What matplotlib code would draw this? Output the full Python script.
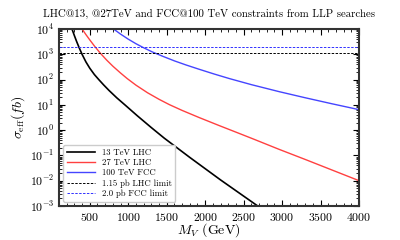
import numpy as np
import matplotlib
matplotlib.use("Agg")
import matplotlib.pyplot as plt
from matplotlib.ticker import MultipleLocator, LogLocator, NullFormatter

plt.rcParams['font.family'] = ['cmr10', 'DejaVu Serif']
plt.rcParams['mathtext.fontset'] = 'cm'
plt.rcParams['axes.formatter.use_mathtext'] = True

# 13 TeV LHC  (M_V in GeV, sigma_eff in fb)
m_13 = [250, 269, 300, 330, 365, 400, 450, 500, 560, 617, 680, 750, 850, 964,
        1117, 1300, 1469, 1800, 2200, 2621, 2800]
s_13 = [14800, 10000, 5500, 3160, 1740, 1000, 500, 282, 158, 100, 61.7, 37.2,
        19.1, 9.55, 3.72, 1.26, 0.479, 0.0832, 0.0107, 0.00135, 0.00056]

# 27 TeV LHC
m_27 = [380, 400, 450, 500, 560, 638, 720, 800, 900, 986, 1100, 1250, 1400,
        1535, 1700, 1920, 2183, 2400, 2617, 2960, 3300, 3650, 4000]
s_27 = [12300, 10000, 6030, 3720, 2140, 1100, 589, 339, 182, 110, 60.3, 30.2,
        16.6, 10.2, 6.03, 3.16, 1.51, 0.832, 0.457, 0.174, 0.0692, 0.0263, 0.01]

# 100 TeV FCC
m_100 = [760, 810, 900, 1000, 1100, 1200, 1316, 1450, 1600, 1750, 1920, 2117,
         2313, 2600, 2965, 3300, 3650, 4000]
s_100 = [13200, 10000, 6310, 3980, 2630, 1820, 1230, 832, 550, 380, 257, 166,
         110, 63.1, 33.1, 19.1, 11.0, 6.46]

lhc_limit = 1150.0   # fb
fcc_limit = 2000.0   # fb

fig = plt.figure(figsize=(4, 2.4), dpi=100)
ax = fig.add_axes([0.1475, 0.142, 0.75, 0.737])

ax.plot(m_13, s_13, color='k', lw=1.2, label='13 TeV LHC')
ax.plot(m_27, s_27, color='#ff4040', lw=1.0, label='27 TeV LHC')
ax.plot(m_100, s_100, color='#4545ff', lw=1.0, label='100 TeV FCC')
ax.axhline(lhc_limit, color='k', ls='--', lw=0.7, dashes=(2.5, 1.5), label='1.15 pb LHC limit')
ax.axhline(fcc_limit, color='#3030ff', ls='--', lw=0.7, dashes=(2.5, 1.5), label='2.0 pb FCC limit')

ax.set_yscale('log')
ax.set_xlim(100, 4000)
ax.set_ylim(1e-3, 1e4)
ax.xaxis.set_major_locator(MultipleLocator(500))
ax.xaxis.set_minor_locator(MultipleLocator(100))
ax.yaxis.set_major_locator(LogLocator(base=10, numticks=20))
ax.yaxis.set_minor_locator(LogLocator(base=10, subs=np.arange(2, 10), numticks=20))
ax.yaxis.set_minor_formatter(NullFormatter())
ax.tick_params(which='both', direction='in', top=True, right=True, labelsize=8.5)
ax.tick_params(which='major', length=4, width=0.8)
ax.tick_params(which='minor', length=2, width=0.6)
for s in ax.spines.values():
    s.set_linewidth(1.5)
    s.set_color('#333333')

ax.set_xlabel(r'$M_V$ (GeV)', fontsize=10, labelpad=-1)
ax.set_ylabel(r'$\sigma_{\rm eff}(fb)$', fontsize=10, labelpad=2)
ax.set_title('LHC@13, @27TeV and FCC@100 TeV constraints from LLP searches', fontsize=7.8, pad=9)

ax.legend(loc='lower left', fontsize=6.3, handlelength=3.2, labelspacing=0.22,
          borderpad=0.4, framealpha=1, edgecolor='#cccccc')

fig.savefig('out.png', dpi=100)
